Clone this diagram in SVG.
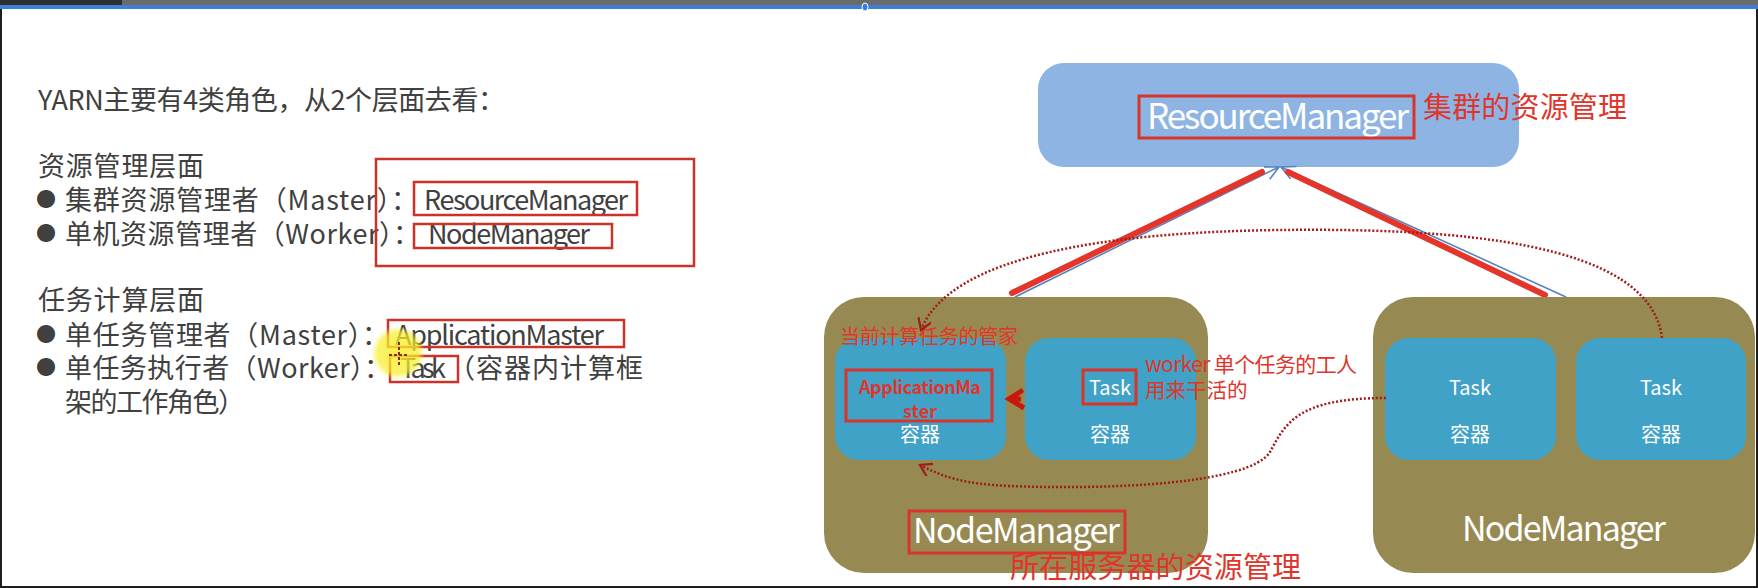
<svg xmlns="http://www.w3.org/2000/svg" width="1758" height="588" viewBox="0 0 1758 588">
  <style>
    .cn { font-family: "Noto Sans CJK SC", "Noto Sans", sans-serif; }
    .lt { font-size: 27px; fill: #404040; }
    .bul { font-size: 20px; fill: #404040; }
    .rbox { fill: none; stroke: #cc3328; stroke-width: 2.5; }
    .rbox3 { fill: none; stroke: #d8342a; stroke-width: 3; }
    .ann { fill: #e0352b; }
    .wt { fill: #ffffff; }
    .nm { fill: #968a52; }
    .ct { fill: #41a2c8; }
    .dot { fill: none; stroke: #a01c18; stroke-width: 2.5; stroke-dasharray: 2 2; }
    .red { stroke: #e3352a; stroke-width: 6; stroke-linecap: round; fill: none; }
    .blue { stroke: #5583c2; stroke-width: 1.6; fill: none; }
  </style>
  <defs>
    <marker id="vdot" markerUnits="userSpaceOnUse" markerWidth="20" markerHeight="20" refX="12" refY="7" orient="auto">
      <path d="M1,0 L12,7 L1,14" fill="none" stroke="#a01c18" stroke-width="2.2"/>
    </marker>
    <marker id="vblue" markerUnits="userSpaceOnUse" markerWidth="20" markerHeight="20" refX="14" refY="7" orient="auto">
      <path d="M0,0 L14,7 L0,14" fill="none" stroke="#5583c2" stroke-width="1.6"/>
    </marker>
    <radialGradient id="glow">
      <stop offset="0" stop-color="#f7ee2a" stop-opacity="0.85"/>
      <stop offset="0.75" stop-color="#f7ee2a" stop-opacity="0.7"/>
      <stop offset="1" stop-color="#f7ee2a" stop-opacity="0"/>
    </radialGradient>
  </defs>

  <rect width="1758" height="588" fill="#ffffff"/>
  <!-- top bar / frame -->
  <rect x="0" y="0" width="1758" height="5" fill="#6b6b6b"/>
  <rect x="0" y="0" width="122" height="5" fill="#2b2f34"/>
  <rect x="0" y="5" width="1758" height="4" fill="#3c80d4"/>
  <ellipse cx="865" cy="7" rx="3" ry="4" fill="#2f7fe0" stroke="#ffffff" stroke-width="1"/>
  <rect x="0" y="9" width="2" height="579" fill="#1e1e1e"/>
  <rect x="1756" y="9" width="2" height="579" fill="#1e1e1e"/>
  <rect x="0" y="586" width="1758" height="2" fill="#1e1e1e"/>

  <!-- left text panel -->
  <g id="left-text" class="cn">
    <text class="lt" x="38" y="110" textLength="467">YARN主要有4类角色，从2个层面去看：</text>
    <text class="lt" x="38" y="176" textLength="166">资源管理层面</text>
    <text class="bul" x="36" y="207">●</text>
    <text class="lt" x="65" y="210" textLength="353">集群资源管理者（Master）：</text>
    <text class="lt" x="424" y="210" textLength="204">ResourceManager</text>
    <text class="bul" x="36" y="241">●</text>
    <text class="lt" x="65" y="244" textLength="355">单机资源管理者（Worker）：</text>
    <text class="lt" x="428" y="244" textLength="162">NodeManager</text>
    <text class="lt" x="38" y="310" textLength="166">任务计算层面</text>
    <text class="bul" x="36" y="342">●</text>
    <text class="lt" x="65" y="345" textLength="324">单任务管理者（Master）：</text>
    <text class="lt" x="395" y="345" textLength="209">ApplicationMaster</text>
    <text class="bul" x="36" y="375">●</text>
    <text class="lt" x="65" y="378" textLength="326">单任务执行者（Worker）：</text>
    <text class="lt" x="400" y="378" textLength="46">Task</text>
    <text class="lt" x="448" y="378" textLength="195">（容器内计算框</text>
    <text class="lt" x="65" y="412" textLength="180">架的工作角色）</text>
    <rect class="rbox" x="376" y="159" width="318" height="107"/>
    <rect class="rbox" x="414" y="182" width="223" height="33"/>
    <rect class="rbox" x="414" y="224" width="198" height="24"/>
    <rect class="rbox" x="388" y="320" width="236" height="27"/>
    <rect class="rbox" x="390" y="356" width="68" height="26"/>
    <circle cx="398" cy="353" r="27" fill="url(#glow)"/>
    <path d="M399,342 V366 M389,355 H409" stroke="#8a2a10" stroke-width="2" stroke-dasharray="3 2" fill="none"/>
  </g>

  <!-- ResourceManager -->
  <g id="resource-manager" class="cn">
    <rect x="1038" y="63" width="481" height="104" rx="26" fill="#8db4e2"/>
    <text class="wt" x="1147" y="129" font-size="35" textLength="262">ResourceManager</text>
    <rect class="rbox3" x="1139" y="96" width="275" height="42"/>
    <text class="ann" x="1423" y="118" font-size="29" textLength="204">集群的资源管理</text>
  </g>

  <!-- connectors -->
  <g id="connectors">
    <line class="blue" x1="1015" y1="297" x2="1279" y2="167" marker-end="url(#vblue)"/>
    <line class="blue" x1="1566" y1="297" x2="1281" y2="167" marker-end="url(#vblue)"/>
    <line class="red" x1="1012" y1="293" x2="1262" y2="172"/>
    <line class="red" x1="1288" y1="172" x2="1545" y2="295"/>
  </g>

  <!-- NodeManager 1 -->
  <g id="nodemanager-1" class="cn">
    <rect class="nm" x="824" y="297" width="384" height="276" rx="40"/>
    <rect class="ct" x="835" y="338" width="171" height="122" rx="24"/>
    <rect class="ct" x="1025" y="338" width="171" height="122" rx="24"/>
    <text x="920" y="394" font-size="18" font-weight="bold" class="ann" text-anchor="middle" textLength="122">ApplicationMa</text>
    <text x="920" y="418" font-size="18" font-weight="bold" class="ann" text-anchor="middle">ster</text>
    <rect class="rbox3" x="846" y="370" width="146" height="51"/>
    <text class="wt" x="920" y="442" font-size="20" text-anchor="middle">容器</text>
    <text class="wt" x="1110" y="395" font-size="20" text-anchor="middle">Task</text>
    <rect class="rbox3" x="1083" y="370" width="53" height="34"/>
    <text class="wt" x="1110" y="442" font-size="20" text-anchor="middle">容器</text>
    <text class="wt" x="913" y="543" font-size="34" textLength="207">NodeManager</text>
    <rect class="rbox3" x="909" y="511" width="216" height="42"/>
    <text class="ann" x="840" y="344" font-size="20" textLength="178">当前计算任务的管家</text>
    <path d="M1023,390 L1009,399 L1024,408 M1010,399 H1021" fill="none" stroke="#c8180c" stroke-width="5" stroke-linejoin="miter"/>
  </g>

  <!-- NodeManager 2 -->
  <g id="nodemanager-2" class="cn">
    <rect class="nm" x="1373" y="297" width="382" height="276" rx="40"/>
    <rect class="ct" x="1385" y="338" width="171" height="122" rx="24"/>
    <rect class="ct" x="1576" y="338" width="170" height="122" rx="24"/>
    <text class="wt" x="1470" y="395" font-size="20" text-anchor="middle">Task</text>
    <text class="wt" x="1470" y="442" font-size="20" text-anchor="middle">容器</text>
    <text class="wt" x="1661" y="395" font-size="20" text-anchor="middle">Task</text>
    <text class="wt" x="1661" y="442" font-size="20" text-anchor="middle">容器</text>
    <text class="wt" x="1462" y="541" font-size="34" textLength="204">NodeManager</text>
  </g>

  <!-- dotted connectors -->
  <g id="dotted-connectors">
    <path class="dot" d="M1662,338 C1650,240 1450,228 1280,230 C1110,232 950,255 921,330" marker-end="url(#vdot)"/>
    <path class="dot" d="M1386,398 C1295,398 1285,425 1270,452 C1250,484 1110,490 1010,486 C965,484 945,478 920,465" marker-end="url(#vdot)"/>
  </g>

  <!-- annotations -->
  <g id="annotations" class="cn">
    <text class="ann" x="1145" y="372" font-size="21" textLength="212">worker 单个任务的工人</text>
    <text class="ann" x="1145" y="398" font-size="20.5">用来干活的</text>
    <text class="ann" x="1010" y="578" font-size="29" textLength="291">所在服务器的资源管理</text>
  </g>
</svg>
